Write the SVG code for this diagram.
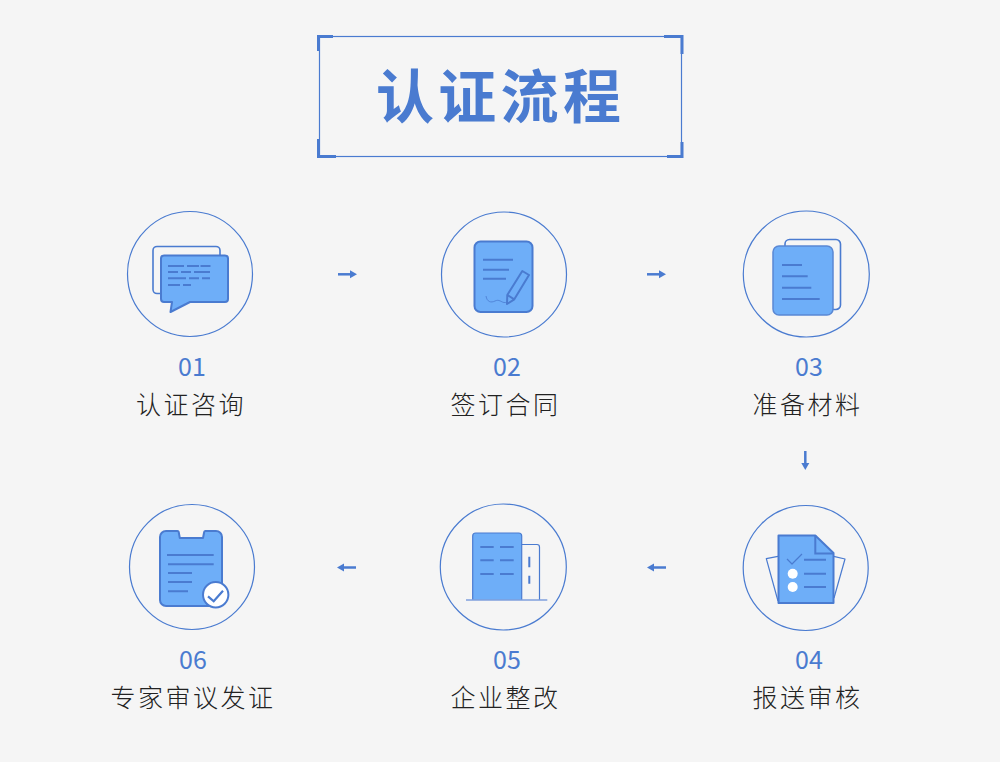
<svg xmlns="http://www.w3.org/2000/svg" width="1000" height="762" viewBox="0 0 1000 762">
<defs>
<style>
.ring{fill:none;stroke:#4a7bd0;stroke-width:1.2}
.fill{fill:#6eaef8;stroke:#4a7bd0;stroke-width:2;stroke-linejoin:round}
.thin{fill:none;stroke:#4a7bd0;stroke-width:1.2;stroke-linejoin:round}
.back{fill:none;stroke:#4a7bd0;stroke-width:1.6}
.ln{fill:none;stroke:#4a7bd0;stroke-width:2}
.num{font-family:"Noto Sans CJK SC","Noto Sans",sans-serif;font-size:25px;font-weight:400;fill:#4a7bd0;text-anchor:middle}
.lab{font-family:"Noto Sans CJK SC",sans-serif;font-size:25px;font-weight:300;fill:#222;letter-spacing:2.500px}
.arr{fill:none;stroke:#4a7bd0;stroke-width:2.500}
.head{fill:#4a7bd0}
</style>
<g id="arrow-shape"><path class="arr" d="M0 0H14"/><path class="head" d="M12 -4L19 0L12 4Z"/></g>
</defs>
<rect width="1000" height="762" fill="#f5f5f5"/>
<g id="title">
<rect x="319.500" y="36.500" width="362" height="120" fill="none" stroke="#4a7bd0" stroke-width="1.200"/>
<path d="M333 36.500H318.500V51M664 36.500H682V54M318.500 139V156.500H336M682 142V156.500H667" fill="none" stroke="#4a7bd0" stroke-width="3"/>
<text x="376" y="118" font-family="'Noto Sans CJK SC',sans-serif" font-size="58" font-weight="700" fill="#4a7bd0" letter-spacing="4.300">认证流程</text>
</g>
<g id="connectors">
<use href="#arrow-shape" transform="translate(338 274.300)"/>
<use href="#arrow-shape" transform="translate(647 274.300)"/>
<use href="#arrow-shape" transform="translate(805.300 451) rotate(90)"/>
<use href="#arrow-shape" transform="translate(666 567.500) rotate(180)"/>
<use href="#arrow-shape" transform="translate(356 567.500) rotate(180)"/>
</g>
<g id="node-01">
<circle class="ring" cx="190" cy="274" r="62.500"/>
<rect class="back" x="153" y="246.500" width="67" height="47" rx="4"/>
<path class="fill" d="M164 255.500H225a3 3 0 0 1 3 3V299a3 3 0 0 1 -3 3H190L170.500 312L172 302H164a3 3 0 0 1 -3 -3V258.500a3 3 0 0 1 3 -3Z"/>
<path class="ln" d="M168 266h16M187 266h12M200.500 266h10M168 272h10M181 272h10M194 272h16M168 278.300h18M189 278.300h10M202 278.300h8M168 285h12M183 285h8"/>
<text class="num" x="192" y="376">01</text>
<text class="lab" x="136" y="414">认证咨询</text>
</g>
<g id="node-02">
<circle class="ring" cx="504" cy="274.500" r="62.500"/>
<rect class="fill" x="474.500" y="241.500" width="58" height="70.500" rx="6"/>
<path class="ln" d="M483 259.700h30M483 269.700h26M483 278.700h23"/>
<path class="thin" d="M507 304L507.300 295L522.300 271L529 275L514.300 299.300ZM507.300 295L514.300 299.300" style="stroke-width:2"/>
<path fill="none" stroke="#4a7bd0" stroke-width="0.800" d="M486 296C487 302 491 303 495 301C499 299 501 302 504 302.500C505 302.700 506 302.500 507 302"/>
<text class="num" x="507" y="376">02</text>
<text class="lab" x="450.500" y="414">签订合同</text>
</g>
<g id="node-03">
<circle class="ring" cx="806.300" cy="274" r="63"/>
<path class="back" d="M785 246V244a4.500 4.500 0 0 1 4.500 -4.500H836a4.500 4.500 0 0 1 4.500 4.500V305a4.500 4.500 0 0 1 -4.500 4.500H832"/>
<rect x="773" y="246" width="60" height="69" rx="6" fill="#6eaef8" stroke="#5a88d4" stroke-width="1.500"/>
<path class="ln" d="M782 265h20M782 276.300h25.700M782 287.700h29.300M782 299h37.700"/>
<text class="num" x="809" y="376">03</text>
<text class="lab" x="752.500" y="414">准备材料</text>
</g>
<g id="node-04">
<circle class="ring" cx="805.700" cy="568" r="62.500"/>
<path class="thin" d="M778 556.300L766.300 558.700L778 601M833.700 556.300L845 559L834 598"/>
<path class="fill" d="M778.500 535.500H815.300L833.500 553V603H778.500Z"/>
<path class="ln" d="M815.300 535.500V553.500H833.500"/>
<path class="thin" d="M787 559L792 564L802 554"/>
<path class="ln" d="M804 559.700h22M804 573.700h22M804 587h22"/>
<circle cx="792.700" cy="573.700" r="5" fill="#fff"/>
<circle cx="792.700" cy="587" r="5" fill="#fff"/>
<text class="num" x="809" y="669">04</text>
<text class="lab" x="752.500" y="707">报送审核</text>
</g>
<g id="node-05">
<circle class="ring" cx="503.300" cy="567" r="63"/>
<path class="thin" d="M521.700 544.500H537a2.500 2.500 0 0 1 2.500 2.500V600"/>
<path fill="#6eaef8" stroke="#4a7bd0" stroke-width="1.200" d="M472.700 600V536a3 3 0 0 1 3 -3H518.700a3 3 0 0 1 3 3V600"/>
<path fill="none" stroke="#7f9fdc" stroke-width="1.500" d="M466 600H547.300"/>
<path class="ln" d="M480.300 547h13.400M500 547h13.700M480.300 560.300h13.400M500 560.300h13.700M480.300 574h13.400M500 574h13.700M529.300 556.700v10.600M529.300 575.700v8"/>
<text class="num" x="507" y="669">05</text>
<text class="lab" x="450.500" y="707">企业整改</text>
</g>
<g id="node-06">
<circle class="ring" cx="192" cy="567" r="62.500"/>
<path class="fill" d="M166 531H177.500Q178.500 531 178.700 532L179.800 538H203L204.200 532Q204.400 531 205.400 531H216a6 6 0 0 1 6 6V600a6 6 0 0 1 -6 6H166a6 6 0 0 1 -6 -6V537a6 6 0 0 1 6 -6Z"/>
<path class="ln" d="M167 555h46.700M168 564.300h45.700M168 573h24M168 582h24M168 591.300h20"/>
<circle cx="215.700" cy="594.700" r="12.700" fill="#fff" stroke="#4a7bd0" stroke-width="2"/>
<path fill="none" stroke="#4a7bd0" stroke-width="2.200" d="M208 596.300L213.700 601.300L223 590.700"/>
<text class="num" x="193" y="669">06</text>
<text class="lab" x="110.500" y="707">专家审议发证</text>
</g>
</svg>
